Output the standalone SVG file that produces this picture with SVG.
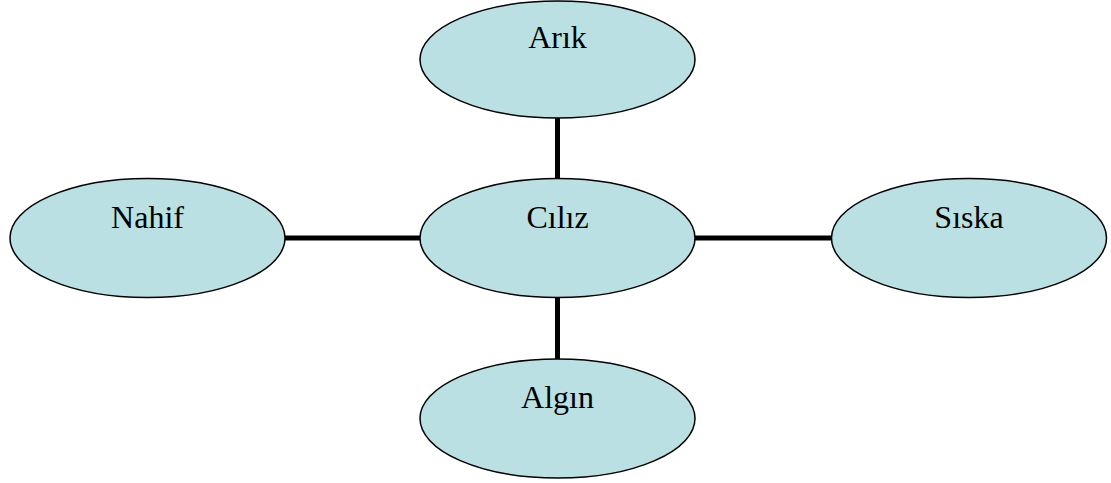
<svg xmlns="http://www.w3.org/2000/svg" width="1111" height="483" viewBox="0 0 1111 483">
<style>
.node ellipse{fill:#BAE0E4;stroke:#000;stroke-width:1.5}
.node text{font-family:"Liberation Serif","Times New Roman",serif;font-size:32px;fill:#000;text-anchor:middle}
.conn line{stroke:#000;stroke-width:5}
</style>
<rect width="1111" height="483" fill="#fff"/>
<g id="connectors" class="conn">
<line x1="557.5" y1="117" x2="557.5" y2="180"/>
<line x1="557.5" y1="297" x2="557.5" y2="360"/>
<line x1="284" y1="238" x2="421" y2="238"/>
<line x1="694" y1="238" x2="833" y2="238"/>
</g>
<g id="arik" class="node"><ellipse cx="557.5" cy="59.5" rx="137.5" ry="58.5"/><text x="557.5" y="48">Arık</text></g>
<g id="ciliz" class="node"><ellipse cx="557.5" cy="238" rx="137.5" ry="59.5"/><text x="557.5" y="228">Cılız</text></g>
<g id="nahif" class="node"><ellipse cx="147.5" cy="238" rx="137.5" ry="59.5"/><text x="147.5" y="228">Nahif</text></g>
<g id="siska" class="node"><ellipse cx="969" cy="238" rx="137.5" ry="59.5"/><text x="969" y="228">Sıska</text></g>
<g id="algin" class="node"><ellipse cx="557.5" cy="418.5" rx="137.5" ry="59.5"/><text x="557.5" y="408">Algın</text></g>
</svg>
